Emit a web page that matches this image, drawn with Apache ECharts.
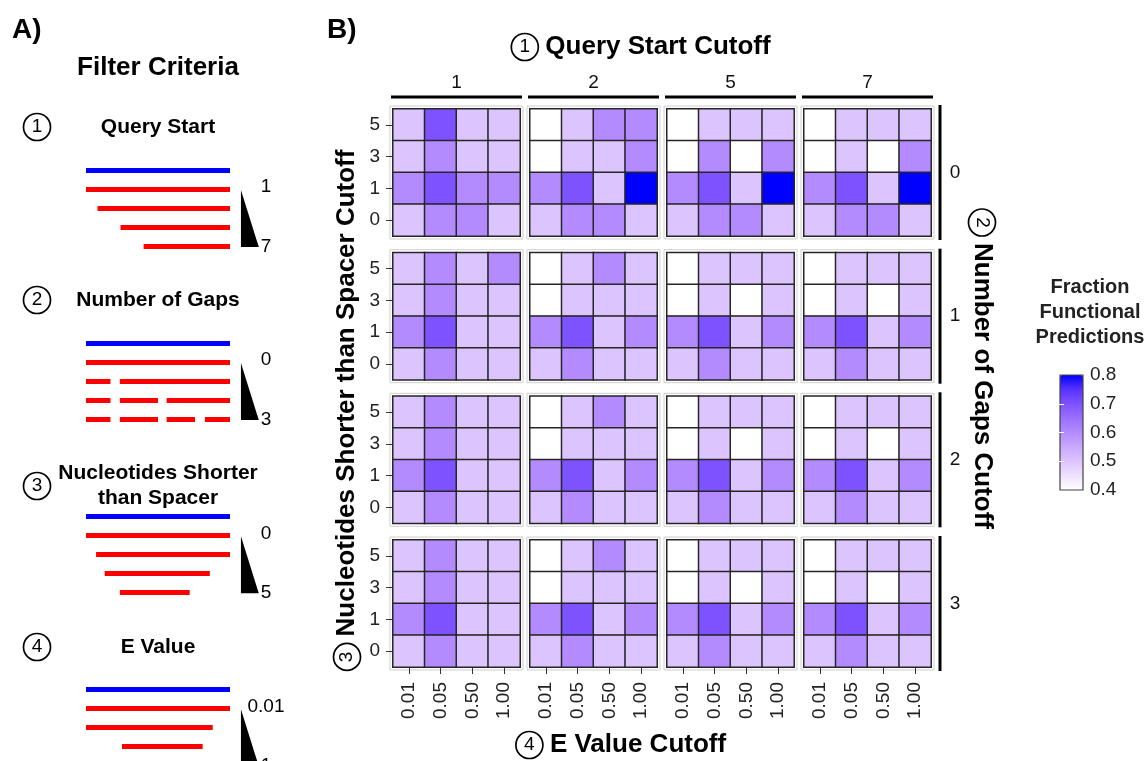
<!DOCTYPE html>
<html><head><meta charset="utf-8">
<script src="https://cdn.jsdelivr.net/npm/echarts@6.0.0/dist/echarts.min.js"></script>
<style>html,body{margin:0;padding:0;background:#fff}#c{width:1148px;height:761px}</style>
</head><body><div id="c"></div>
<script>
// ---------- DATA ----------
const eValues = ['0.01', '0.05', '0.50', '1.00'];      // x categories (E value cutoff)
const ntCutoffs = ['0', '1', '3', '5'];                // y categories (nt shorter than spacer)
const qsCutoffs = ['1', '2', '5', '7'];                // facet columns (query start cutoff)
const gapCutoffs = ['0', '1', '2', '3'];               // facet rows (number of gaps cutoff)

// Fraction functional predictions; each panel: rows nt = 5,3,1,0 (top->bottom), cols = eValues
const gap0_qs1 = [[0.50,0.70,0.50,0.50],[0.50,0.60,0.50,0.50],[0.60,0.70,0.60,0.60],[0.50,0.60,0.60,0.50]];
const gap0_qs2 = [[0.40,0.50,0.60,0.60],[0.40,0.50,0.50,0.60],[0.60,0.70,0.50,0.80],[0.50,0.60,0.60,0.50]];
const gap0_qs5 = [[0.40,0.50,0.50,0.50],[0.40,0.60,0.40,0.60],[0.60,0.70,0.50,0.80],[0.50,0.60,0.60,0.50]];
const gap0_qs7 = [[0.40,0.50,0.50,0.50],[0.40,0.50,0.40,0.60],[0.60,0.70,0.50,0.80],[0.50,0.60,0.60,0.50]];
const gap1_qs1 = [[0.50,0.60,0.50,0.60],[0.50,0.60,0.50,0.50],[0.60,0.70,0.50,0.50],[0.50,0.60,0.50,0.50]];
const gap1_qs2 = [[0.40,0.50,0.60,0.50],[0.40,0.50,0.50,0.50],[0.60,0.70,0.50,0.60],[0.50,0.60,0.50,0.50]];
const gap1_qs5 = [[0.40,0.50,0.50,0.50],[0.40,0.50,0.40,0.50],[0.60,0.70,0.50,0.60],[0.50,0.60,0.50,0.50]];
const gap1_qs7 = [[0.40,0.50,0.50,0.50],[0.40,0.50,0.40,0.50],[0.60,0.70,0.50,0.60],[0.50,0.60,0.50,0.50]];
const gap2_qs1 = [[0.50,0.60,0.50,0.50],[0.50,0.60,0.50,0.50],[0.60,0.70,0.50,0.50],[0.50,0.60,0.50,0.50]];
const gap2_qs2 = [[0.40,0.50,0.60,0.50],[0.40,0.50,0.50,0.50],[0.60,0.70,0.50,0.60],[0.50,0.60,0.50,0.50]];
const gap2_qs5 = [[0.40,0.50,0.50,0.50],[0.40,0.50,0.40,0.50],[0.60,0.70,0.50,0.60],[0.50,0.60,0.50,0.50]];
const gap2_qs7 = [[0.40,0.50,0.50,0.50],[0.40,0.50,0.40,0.50],[0.60,0.70,0.50,0.60],[0.50,0.60,0.50,0.50]];
const gap3_qs1 = [[0.50,0.60,0.50,0.50],[0.50,0.60,0.50,0.50],[0.60,0.70,0.50,0.50],[0.50,0.60,0.50,0.50]];
const gap3_qs2 = [[0.40,0.50,0.60,0.50],[0.40,0.50,0.50,0.50],[0.60,0.70,0.50,0.60],[0.50,0.60,0.50,0.50]];
const gap3_qs5 = [[0.40,0.50,0.50,0.50],[0.40,0.50,0.40,0.50],[0.60,0.70,0.50,0.60],[0.50,0.60,0.50,0.50]];
const gap3_qs7 = [[0.40,0.50,0.50,0.50],[0.40,0.50,0.40,0.50],[0.60,0.70,0.50,0.60],[0.50,0.60,0.50,0.50]];
const colorbarTicks = [0.4, 0.5, 0.6, 0.7, 0.8];

// Schematic (panel A): read segments as fractions of full read length
const queryStartReads = [[[0, 1]], [[0.08, 1]], [[0.24, 1]], [[0.40, 1]]];
const gapReads = [[[0, 1]], [[0, 0.17], [0.235, 1]], [[0, 0.17], [0.235, 0.5], [0.56, 1]], [[0, 0.17], [0.235, 0.5], [0.56, 0.757], [0.826, 1]]];
const shortReads = [[[0, 1]], [[0.07, 1]], [[0.13, 0.86]], [[0.235, 0.72]]];
const evalueReads = [[[0, 1]], [[0, 0.88]], [[0.25, 0.81]]];
const rangeLabels = [['1', '7'], ['0', '3'], ['0', '5'], ['0.01', '1']];
const filterTitles = ['Query Start', 'Number of Gaps', 'Nucleotides Shorter\nthan Spacer', 'E Value'];

// ---------- LAYOUT ----------
const FONT = '"Liberation Sans", Arial, Helvetica, sans-serif';
const panels = [
  [gap0_qs1, gap0_qs2, gap0_qs5, gap0_qs7],
  [gap1_qs1, gap1_qs2, gap1_qs5, gap1_qs7],
  [gap2_qs1, gap2_qs2, gap2_qs5, gap2_qs7],
  [gap3_qs1, gap3_qs2, gap3_qs5, gap3_qs7]
];
const colX = [393, 530, 667, 804];
const rowY = [109, 252.7, 396.3, 540];
const PW = 127, PH = 127;
const labStops = ['#ffffff','#eee2ff','#dcc4ff','#c8a8ff','#b38bff','#9b6fff','#7e52ff','#5932ff','#0000ff'];

const grids = [], xAxes = [], yAxes = [], series = [], graphics = [];

for (let gi = 0; gi < 4; gi++) {
  for (let qi = 0; qi < 4; qi++) {
    const idx = grids.length;
    grids.push({left: colX[qi], top: rowY[gi], width: PW, height: PH});
    xAxes.push({type: 'category', gridIndex: idx, data: eValues,
      axisLine: {show: false}, splitLine: {show: false},
      axisTick: {show: gi === 3, length: 7, alignWithLabel: true, lineStyle: {color: '#333', width: 1}},
      axisLabel: {show: gi === 3, rotate: 90, fontSize: 19, color: '#222', margin: 15, fontFamily: FONT}});
    yAxes.push({type: 'category', gridIndex: idx, data: ntCutoffs,
      axisLine: {show: false}, splitLine: {show: false},
      axisTick: {show: qi === 0, length: 7, alignWithLabel: true, lineStyle: {color: '#333', width: 1}},
      axisLabel: {show: qi === 0, fontSize: 19, color: '#222', margin: 13, fontFamily: FONT}});
    const m = panels[gi][qi];
    const data = [];
    for (let r = 0; r < 4; r++) for (let c = 0; c < 4; c++) data.push([c, 3 - r, m[r][c]]);
    series.push({type: 'heatmap', xAxisIndex: idx, yAxisIndex: idx, data: data, silent: true,
      itemStyle: {borderColor: '#262626', borderWidth: 1.5}, emphasis: {disabled: true}});
    graphics.push({type: 'rect', silent: true, shape: {x: colX[qi] - 3, y: rowY[gi] - 3, width: PW + 6, height: PH + 6},
      style: {fill: 'none', stroke: '#cfcfcf', lineWidth: 1}});
  }
}
// facet strips
qsCutoffs.forEach((q, qi) => {
  graphics.push({type: 'line', silent: true, shape: {x1: colX[qi] - 2, y1: 97, x2: colX[qi] + PW + 2, y2: 97}, style: {stroke: '#000', lineWidth: 3}});
  graphics.push({type: 'text', silent: true, x: colX[qi] + PW / 2, y: 83, style: {text: q, fontSize: 19, fontFamily: FONT, fill: '#111', align: 'center', verticalAlign: 'middle'}});
});
gapCutoffs.forEach((g, gi) => {
  graphics.push({type: 'line', silent: true, shape: {x1: 940, y1: rowY[gi] - 4, x2: 940, y2: rowY[gi] + PH + 4}, style: {stroke: '#000', lineWidth: 3}});
  graphics.push({type: 'text', silent: true, x: 955, y: rowY[gi] + PH / 2, style: {text: g, fontSize: 19, fontFamily: FONT, fill: '#111', align: 'center', verticalAlign: 'middle'}});
});

// colorbar axis grid
const cbIdx = grids.length;
grids.push({left: 1060, top: 375, width: 23, height: 115, show: true, borderColor: '#444', borderWidth: 1.2, backgroundColor: 'transparent', z: 10});
xAxes.push({type: 'value', gridIndex: cbIdx, show: false, min: 0, max: 1});
yAxes.push({type: 'value', gridIndex: cbIdx, min: 0.4, max: 0.8, interval: 0.1, position: 'right', z: 10,
  axisLine: {show: false}, splitLine: {show: false},
  axisTick: {show: true, inside: true, length: 4, customValues: [0.5, 0.6, 0.7], lineStyle: {color: '#fff', width: 1}},
  axisLabel: {fontSize: 19, color: '#222', margin: 7, fontFamily: FONT, customValues: colorbarTicks, formatter: v => v.toFixed(1)}});
yAxes.push({type: 'value', gridIndex: cbIdx, min: 0.4, max: 0.8, interval: 0.1, position: 'left', z: 10,
  axisLine: {show: false}, splitLine: {show: false}, axisLabel: {show: false},
  axisTick: {show: true, inside: true, length: 4, customValues: [0.5, 0.6, 0.7], lineStyle: {color: '#fff', width: 1}}});
xAxes.push({type: 'value', gridIndex: cbIdx, show: false, min: 0, max: 1});

// schematic grid (1 y unit = one read row)
const scIdx = grids.length;
grids.push({left: 86, top: 151, width: 144, height: 608});
const scX = xAxes.length, scY = yAxes.length;
xAxes.push({type: 'value', gridIndex: scIdx, show: false, min: 0, max: 1});
yAxes.push({type: 'value', gridIndex: scIdx, show: false, min: -1, max: 31, inverse: true});
const BLOCK = 9.11;
const schematicSets = [queryStartReads, gapReads, shortReads, evalueReads];
const lineData = [];
schematicSets.forEach((reads, b) => {
  const off = b * BLOCK;
  lineData.push({coords: [[0, off], [1, off]], lineStyle: {color: '#0000ff'}});
  reads.forEach((segs, r) => segs.forEach(s => {
    lineData.push({coords: [[s[0], off + r + 1], [s[1], off + r + 1]], lineStyle: {color: '#ff0000'}});
  }));
});
series.push({type: 'lines', coordinateSystem: 'cartesian2d', xAxisIndex: scX, yAxisIndex: scY, silent: true,
  lineStyle: {width: 5, opacity: 1, cap: 'butt'}, data: lineData});
series.push({type: 'custom', coordinateSystem: 'cartesian2d', xAxisIndex: scX, yAxisIndex: scY, silent: true, clip: false,
  data: rangeLabels.map((l, b) => [b]),
  renderItem: function (params, api) {
    const b = api.value(0), off = b * BLOCK;
    const p1 = api.coord([1.076, off + 1.05]), p2 = api.coord([1.076, off + 4.05]), p3 = api.coord([1.2, off + 4.05]);
    const t1 = api.coord([1.25, off + 0.9]), t2 = api.coord([1.25, off + 4.05]);
    const ts = {fontSize: 19, fontFamily: FONT, fill: '#000', align: 'center', verticalAlign: 'middle'};
    return {type: 'group', children: [
      {type: 'polygon', shape: {points: [p1, p2, p3]}, style: {fill: '#000'}},
      {type: 'text', x: t1[0], y: t1[1], style: Object.assign({text: rangeLabels[b][0]}, ts)},
      {type: 'text', x: t2[0], y: t2[1], style: Object.assign({text: rangeLabels[b][1]}, ts)}
    ]};
  }});

// titles & circled numbers
const circ = {width: 25, height: 25, lineHeight: 25, borderRadius: 14, borderColor: '#000', borderWidth: 1.7,
  padding: [1, 1, 1, 1], align: 'center', verticalAlign: 'middle', fontSize: 19, fontWeight: 'normal', fontFamily: FONT};
function circled(num, label, x, y, rot, size) {
  return {type: 'text', silent: true, x: x, y: y, rotation: rot || 0,
    style: {text: '{c|' + num + '}' + (label ? '{t|' + label + '}' : ''), align: 'center', verticalAlign: 'middle',
      rich: {c: circ, t: {fontSize: size || 26, fontWeight: 'bold', fontFamily: FONT, fill: '#000', verticalAlign: 'middle', padding: [0, 0, 0, 7]}}}};
}
graphics.push({type: 'text', silent: true, x: 12, y: 30, style: {text: 'A)', fontSize: 28, fontWeight: 'bold', fontFamily: FONT, fill: '#000', verticalAlign: 'middle'}});
graphics.push({type: 'text', silent: true, x: 327, y: 30, style: {text: 'B)', fontSize: 28, fontWeight: 'bold', fontFamily: FONT, fill: '#000', verticalAlign: 'middle'}});
graphics.push({type: 'text', silent: true, x: 158, y: 68, style: {text: 'Filter Criteria', fontSize: 26, fontWeight: 'bold', fontFamily: FONT, fill: '#000', align: 'center', verticalAlign: 'middle'}});
const titleY = [127, 300, 486, 647];
filterTitles.forEach((t, i) => {
  graphics.push({type: 'text', silent: true, x: 158, y: titleY[i], style: {text: t, fontSize: 21, lineHeight: 25, fontWeight: 'bold', fontFamily: FONT, fill: '#000', align: 'center', verticalAlign: 'middle'}});
  graphics.push(circled(String(i + 1), '', 37, titleY[i]));
});
graphics.push(circled('1', 'Query Start Cutoff', 641, 47, 0));
graphics.push(circled('3', 'Nucleotides Shorter than Spacer Cutoff', 347, 410, Math.PI / 2));
graphics.push(circled('2', 'Number of Gaps Cutoff', 982, 369, -Math.PI / 2));
graphics.push(circled('4', 'E Value Cutoff', 621, 745, 0));
graphics.push({type: 'text', silent: true, x: 1090, y: 312, style: {text: 'Fraction\nFunctional\nPredictions', fontSize: 20, lineHeight: 25, fontWeight: 'bold', fontFamily: FONT, fill: '#222', align: 'center', verticalAlign: 'middle'}});

const chart = echarts.init(document.getElementById('c'), null, {renderer: 'canvas'});
chart.setOption({
  animation: false,
  backgroundColor: '#fff',
  textStyle: {fontFamily: FONT},
  grid: grids, xAxis: xAxes, yAxis: yAxes,
  visualMap: {type: 'continuous', min: 0.4, max: 0.8, seriesIndex: [...Array(16).keys()],
    inRange: {color: labStops}, calculable: false, orient: 'vertical', left: 1060, top: 375,
    itemWidth: 23, itemHeight: 115, padding: 0, text: null, showLabel: false},
  series: series,
  graphic: {elements: graphics}
});
</script></body></html>
